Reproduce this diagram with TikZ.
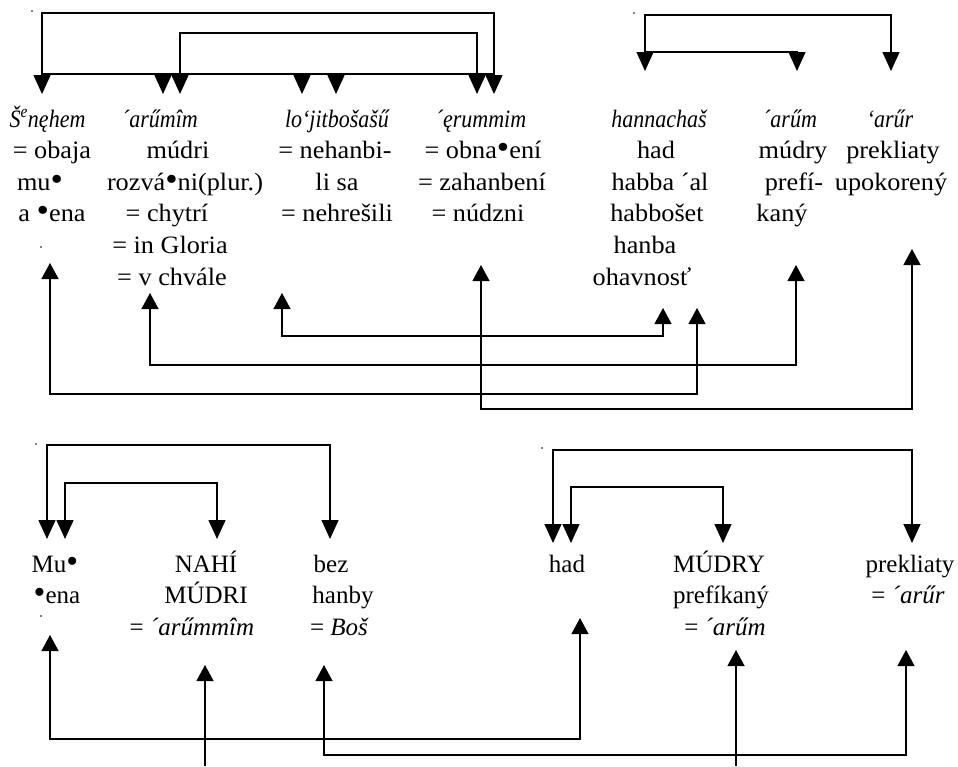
\documentclass[tikz,border=0pt]{standalone}
\usepackage{fontspec}
\usepackage{graphicx}
\setmainfont{Liberation Serif}
\newfontfamily\topfont[FakeStretch=1.05,ItalicFeatures={FakeStretch=0.88}]{Liberation Serif}
\newcommand\bul{\raisebox{-0.02em}{\scalebox{1.35}{•}}}
\usetikzlibrary{arrows.meta}
\begin{document}
\begin{tikzpicture}[x=1pt,y=-1pt,line width=1.3pt,
  txt/.style={anchor=base,inner sep=0pt,font=\topfont\fontsize{25pt}{30pt}\selectfont},
  btxt/.style={anchor=base,inner sep=0pt,font=\fontsize{25pt}{30pt}\selectfont},
  tipd/.style={-{Triangle[width=17pt,length=19pt]}},
  tipboth/.style={{Triangle[width=17pt,length=19pt]}-{Triangle[width=17pt,length=19pt]}},
  tipu/.style={-{Triangle[width=17pt,length=16pt]}},
  tipuboth/.style={{Triangle[width=17pt,length=16pt]}-{Triangle[width=17pt,length=16pt]}},
  speck/.style={fill=black}]
\useasboundingbox (0,0) rectangle (958,766);

% ---------- top texts ----------
\node[txt,anchor=base west] (c1a) at (9,127) {\itshape Š\textsuperscript{e}nęhem};
\node[txt] (c1b) at (52,158) {= obaja};
\node[txt] (c1c) at (40,190) {mu\bul};
\node[txt] (c1d) at (52,221) {a \bul ena};

\node[txt] (c2a) at (160,127) {\itshape ´arűmîm};
\node[txt] (c2b) at (178,158) {múdri};
\node[txt] (c2c) at (185,190) {rozvá\bul ni(plur.)};
\node[txt] (c2d) at (167,221) {= chytrí};
\node[txt] (c2e) at (170,253) {= in Gloria};
\node[txt] (c2f) at (172,285) {= v chvále};

\node[txt] (c3a) at (337,127) {\itshape lo‘jitbošašű};
\node[txt] (c3b) at (335,158) {= nehanbi-};
\node[txt] (c3c) at (337,190) {li sa};
\node[txt] (c3d) at (337,221) {= nehrešili};

\node[txt] (c4a) at (481,127) {\itshape ´ęrummim};
\node[txt] (c4b) at (483,158) {= obna\bul ení};
\node[txt] (c4c) at (482,190) {= zahanbení};
\node[txt] (c4d) at (478,221) {= núdzni};

\node[txt] (c5a) at (659,127) {\itshape hannachaš};
\node[txt] (c5b) at (656,158) {had};
\node[txt] (c5c) at (660,190) {habba ´al};
\node[txt] (c5d) at (657,221) {habbošet};
\node[txt] (c5e) at (645,253) {hanba};
\node[txt] (c5f) at (642,285) {ohavnosť};

\node[txt] (c6a) at (790,127) {\itshape ´arűm};
\node[txt] (c6b) at (793,158) {múdry};
\node[txt] (c6c) at (794,190) {prefí-};
\node[txt] (c6d) at (782,221) {kaný};

\node[txt] (c7a) at (890,127) {\itshape ‘arűr};
\node[txt] (c7b) at (893,158) {prekliaty};
\node[txt] (c7c) at (891,190) {upokorený};

% ---------- bottom texts ----------
\node[btxt] (d1a) at (55,572) {Mu\bul};
\node[btxt] (d1b) at (57,603) {\bul ena};
\node[btxt] (d2a) at (206,572) {NAHÍ};
\node[btxt] (d2b) at (206,603) {MÚDRI};
\node[btxt] (d2c) at (192,635) {= \itshape ´arűmmîm};
\node[btxt] (d3a) at (331,572) {bez};
\node[btxt] (d3b) at (343,603) {hanby};
\node[btxt] (d3c) at (339,635) {= \itshape Boš};
\node[btxt] (d4a) at (567,572) {had};
\node[btxt] (d5a) at (719,572) {MÚDRY};
\node[btxt] (d5b) at (721,603) {prefíkaný};
\node[btxt] (d5c) at (725,635) {= \itshape ´arűm};
\node[btxt] (d6a) at (910,572) {prekliaty};
\node[btxt] (d6b) at (908,603) {= \itshape ´arűr};

% ---------- top-left brackets ----------
\coordinate (tLtop) at (0,13);
\coordinate (tLin) at (0,33);
\coordinate (tLbase) at (0,74);
\coordinate (tA1) at (42,94);
\coordinate (tA2) at (163,94);
\coordinate (tA3) at (180,94);
\coordinate (tA4) at (302,94);
\coordinate (tA5) at (336,94);
\coordinate (tA6) at (477,94);
\coordinate (tA7) at (494,94);
\draw[tipboth] (tA1) -- (tA1 |- tLtop) -- (tA7 |- tLtop) -- (tA7);
\draw[tipboth] (tA3) -- (tA3 |- tLin) -- (tA6 |- tLin) -- (tA6);
\draw (tA1 |- tLbase) -- (tA7 |- tLbase);
\draw[tipd] (tA2 |- tLbase) -- (tA2);
\draw[tipd] (tA4 |- tLbase) -- (tA4);
\draw[tipd] (tA5 |- tLbase) -- (tA5);

% ---------- top-right brackets ----------
\coordinate (tRtop) at (0,15);
\coordinate (tRbase) at (0,52);
\coordinate (tB1) at (645,71);
\coordinate (tB2) at (797,71);
\coordinate (tB3) at (891,71);
\draw[tipboth] (tB1) -- (tB1 |- tRtop) -- (tB3 |- tRtop) -- (tB3);
\draw[tipd] (tB1 |- tRbase) -- (tB2 |- tRbase) -- (tB2);

% ---------- top lower connectors ----------
\coordinate (uA1) at (50,263);  \coordinate (uA2) at (697,308); \coordinate (hA) at (0,394);
\coordinate (uB1) at (150,293); \coordinate (uB2) at (796,265); \coordinate (hB) at (0,365);
\coordinate (uC1) at (282,293); \coordinate (uC2) at (663,308); \coordinate (hC) at (0,336);
\coordinate (uD1) at (481,265); \coordinate (uD2) at (912,249); \coordinate (hD) at (0,409);
\draw[tipuboth] (uA1) -- (uA1 |- hA) -- (uA2 |- hA) -- (uA2);
\draw[tipuboth] (uB1) -- (uB1 |- hB) -- (uB2 |- hB) -- (uB2);
\draw[tipuboth] (uC1) -- (uC1 |- hC) -- (uC2 |- hC) -- (uC2);
\draw[tipuboth] (uD1) -- (uD1 |- hD) -- (uD2 |- hD) -- (uD2);

% ---------- bottom-left brackets ----------
\coordinate (bLtop) at (0,445);
\coordinate (bLin) at (0,483);
\coordinate (bA1) at (47,539);
\coordinate (bA2) at (65,539);
\coordinate (bA3) at (217,539);
\coordinate (bA4) at (330,539);
\draw[tipboth] (bA1) -- (bA1 |- bLtop) -- (bA4 |- bLtop) -- (bA4);
\draw[tipboth] (bA2) -- (bA2 |- bLin) -- (bA3 |- bLin) -- (bA3);

% ---------- bottom-right brackets ----------
\coordinate (bRtop) at (0,450);
\coordinate (bRin) at (0,487);
\coordinate (bB1) at (553,543);
\coordinate (bB2) at (571,543);
\coordinate (bB3) at (723,543);
\coordinate (bB4) at (912,543);
\draw[tipboth] (bB1) -- (bB1 |- bRtop) -- (bB4 |- bRtop) -- (bB4);
\draw[tipboth] (bB2) -- (bB2 |- bRin) -- (bB3 |- bRin) -- (bB3);

% ---------- bottom lower connectors ----------
\coordinate (vA1) at (50,635);  \coordinate (vA2) at (580,618); \coordinate (gA) at (0,739);
\coordinate (vB1) at (324,665); \coordinate (vB2) at (906,650); \coordinate (gB) at (0,755);
\coordinate (vC1) at (205,665); \coordinate (fC1) at (205,766);
\coordinate (vD1) at (736,650); \coordinate (fD1) at (736,766);
\draw[tipuboth] (vA1) -- (vA1 |- gA) -- (vA2 |- gA) -- (vA2);
\draw[tipuboth] (vB1) -- (vB1 |- gB) -- (vB2 |- gB) -- (vB2);
\draw[tipu] (fC1) -- (vC1);
\draw[tipu] (fD1) -- (vD1);

% ---------- specks ----------
\fill[speck] (32,11) circle (0.8);
\fill[speck] (634,13) circle (0.8);
\fill[speck] (41,247) circle (0.8);
\fill[speck] (36,444) circle (0.8);
\fill[speck] (542,448) circle (0.8);
\fill[speck] (41,616) circle (0.8);
\end{tikzpicture}
\end{document}
